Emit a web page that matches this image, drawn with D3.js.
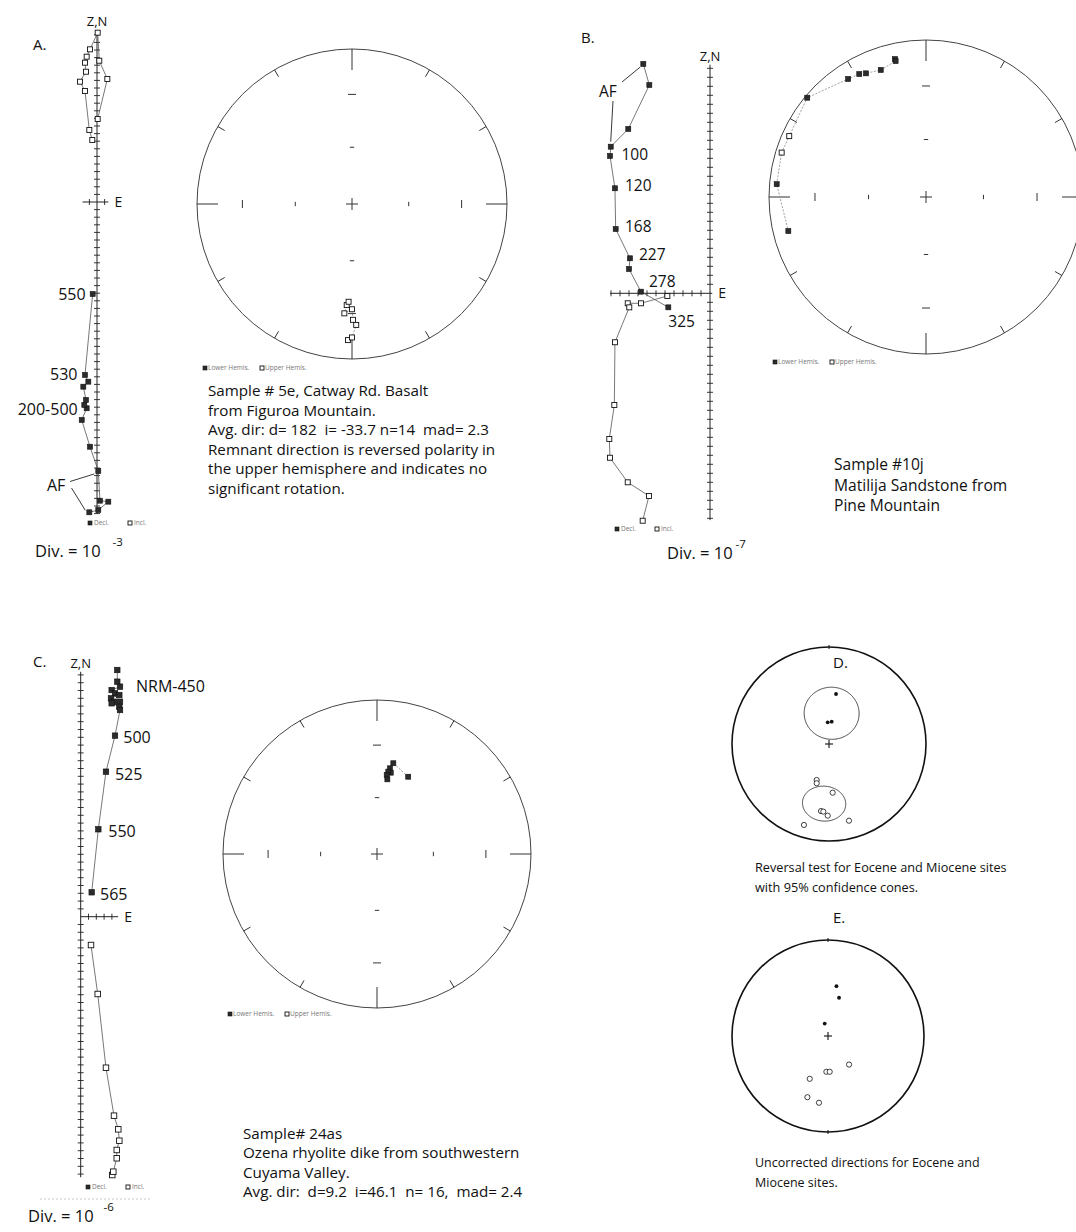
<!DOCTYPE html>
<html><head><meta charset="utf-8">
<script src="https://cdn.jsdelivr.net/npm/d3@7"></script>
<style>body{margin:0;background:#fff}svg{display:block}text{font-family:'Open Sans',sans-serif;fill:#111;white-space:pre}</style>
</head><body><script>
// ================= DATA =================
// Zijderveld diagrams, values in divisions; Decl. = filled (horizontal), Incl. = open (vertical)
const zijA_decl = [[-1.01,-40.83],[0.17,-40.53],[1.49,-39.43],[0.39,-39.3],[0.17,-35.39],[-0.92,-32.2],[-2.01,-28.68],[-1.36,-27.14],[-1.67,-26.71],[-1.45,-26.05],[-1.8,-24.3],[-1.14,-23.64],[-1.58,-22.76],[-0.57,-12.11]];
const zijA_incl = [[-0.62,8.16],[-1.01,9.47],[-1.58,14.61],[-2.24,15.83],[-1.45,17.14],[-1.58,18.33],[-1.36,19.12],[-0.92,20.09],[0.09,22.28],[0.3,18.59],[1.36,16.18],[0.09,10.92]];
const zijA_labels = [{i:13,t:"550"},{i:12,t:"530"},{i:6,t:"200-500"}];
const zijA_af = [4,0];

const zijB_decl = [[-7.41,25.48],[-6.74,23.14],[-9.08,18.26],[-11.03,16.29],[-11.11,15.26],[-10.56,11.67],[-10.48,7.14],[-8.89,3.89],[-9.0,2.7],[-7.67,0.18],[-4.63,-1.56]];
const zijB_incl = [[-4.74,-0.3],[-7.67,-1.11],[-9.14,-1.11],[-8.97,-1.56],[-10.56,-5.44],[-10.63,-12.41],[-11.19,-16.19],[-11.11,-18.27],[-9.14,-21.0],[-6.78,-22.52],[-7.48,-25.27]];
const zijB_labels = [{i:4,t:"100"},{i:5,t:"120"},{i:6,t:"168"},{i:7,t:"227"},{i:9,t:"278"},{i:10,t:"325"}];
const zijB_af = [0,3];

const zijC_decl = [[4.69,31.63],[4.69,30.13],[5.04,29.49],[3.97,29.06],[4.4,28.64],[4.95,28.42],[3.88,28.0],[4.27,27.56],[5.04,27.56],[3.97,27.36],[4.95,26.92],[5.04,26.5],[4.4,23.21],[3.24,18.59],[2.26,11.21],[1.41,3.13]];
const zijC_incl = [[4.05,-33.12],[4.18,-32.69],[4.62,-30.97],[4.62,-29.91],[4.95,-28.72],[4.82,-27.26],[4.27,-25.51],[3.24,-19.36],[2.18,-9.91],[1.32,-3.63]];
const zijC_labels = [{i:1,t:"NRM-450"},{i:12,t:"500"},{i:13,t:"525"},{i:14,t:"550"},{i:15,t:"565"}];

// Equal-area stereonets: [declination, inclination]; negative inclination = upper hemisphere (open)
const stereoA = [[181.7,-13.2],[180,-15],[178,-23],[179.5,-26.2],[180,-32.6],[184,-30],[183,-35],[182,-37]];
const stereoB = [[347.3,10.9],[347.4,12.3],[340.4,15.2],[334.1,13.5],[331.5,11.9],[326.6,10.9],[309.9,1.6],[294,-5.2],[287.1,-4.3],[274.9,5.1],[256.1,10.6]];
const stereoC = [[22,45],[10.2,39.9],[8.6,43.1],[9.6,45.5],[7.8,45.1],[7.0,47.1],[7.9,49.5]];

// D: reversal test (site means) with 95% cones [dec, inc, a95]
const siteD_normal = [[8,46.8],[356.6,71.8],[6.9,71.1]];
const siteD_reversed = [[198.9,-57.8],[197.4,-55.1],[175.7,-48.3],[186.8,-31],[184.8,-30.7],[181,-27],[197.2,-13.7],[165.4,-19.4]];
const coneD = [[4.9,63.5,22.5],[184.7,-37.7,16.3]];
// E: uncorrected directions
const siteE_normal = [[9.6,46.3],[16.1,55.9],[345.2,79.1]];
const siteE_reversed = [[143.6,-59.7],[182.6,-59.4],[177.3,-59.4],[203.1,-49.9],[198.6,-33.2],[187.7,-30.5]];

const textA = ["Sample # 5e, Catway Rd. Basalt","from Figuroa Mountain.","Avg. dir: d= 182  i= -33.7 n=14  mad= 2.3","Remnant direction is reversed polarity in","the upper hemisphere and indicates no","significant rotation."];
const textB = ["Sample #10j","Matilija Sandstone from","Pine Mountain"];
const textC = ["Sample# 24as","Ozena rhyolite dike from southwestern","Cuyama Valley.","Avg. dir:  d=9.2  i=46.1  n= 16,  mad= 2.4"];
const textD = ["Reversal test for Eocene and Miocene sites","with 95% confidence cones."];
const textE = ["Uncorrected directions for Eocene and","Miocene sites."];

// ================= DRAWING =================
const svg = d3.select("body").append("svg").attr("width",1076).attr("height",1232);

function sq(g,x,y,s,filled){
  g.append("rect").attr("x",x-s/2).attr("y",y-s/2).attr("width",s).attr("height",s)
   .attr("fill",filled?"#2b2b2b":"#fff").attr("stroke","#111").attr("stroke-width",filled?0.6:0.9);
}
function txt(x,y,t,size,anchor,fill){
  return svg.append("text").attr("x",x).attr("y",y).attr("font-size",size).attr("text-anchor",anchor||"start")
    .attr("xml:space","preserve").style("fill",fill||"#111").text(t);
}
function lines(x,y,arr,size,gap){ arr.forEach((t,k)=>txt(x,y+k*gap,t,size)); }

function zij(cfg){
  const g = svg.append("g");
  const x = d3.scaleLinear().domain([0,1]).range([cfg.ox,cfg.ox+cfg.unit]);
  const y = d3.scaleLinear().domain([0,1]).range([cfg.oy,cfg.oy-cfg.unit]);
  const [vb,vt]=cfg.v,[hl,hr]=cfg.h;
  g.append("line").attr("x1",x(0)).attr("x2",x(0)).attr("y1",y(vt)).attr("y2",y(vb)).attr("stroke","#222").attr("stroke-width",1);
  g.append("line").attr("x1",x(hl)).attr("x2",x(hr)).attr("y1",y(0)).attr("y2",y(0)).attr("stroke","#222").attr("stroke-width",1);
  d3.range(Math.ceil(vb),Math.floor(vt)+1).filter(v=>v!==0).forEach(v=>
    g.append("line").attr("x1",x(0)-3).attr("x2",x(0)+3).attr("y1",y(v)).attr("y2",y(v)).attr("stroke","#222").attr("stroke-width",0.9));
  d3.range(Math.ceil(hl),Math.floor(hr)+1).filter(v=>v!==0).forEach(v=>
    g.append("line").attr("y1",y(0)-3).attr("y2",y(0)+3).attr("x1",x(v)).attr("x2",x(v)).attr("stroke","#222").attr("stroke-width",0.9));
  const ln = d3.line().x(d=>x(d[0])).y(d=>y(d[1]));
  g.append("path").attr("d",ln(cfg.incl)).attr("fill","none").attr("stroke","#555").attr("stroke-width",0.8);
  g.append("path").attr("d",ln(cfg.decl)).attr("fill","none").attr("stroke","#555").attr("stroke-width",0.8);
  cfg.incl.forEach(d=>sq(g,x(d[0]),y(d[1]),cfg.s,false));
  cfg.decl.forEach(d=>sq(g,x(d[0]),y(d[1]),cfg.s,true));
  txt(x(0),y(vt)-4,"Z,N",13,"middle");
  txt(x(hr)+6,y(0)+5,"E",14);
  return {x,y};
}
function zijLegend(xp,yp){
  const g=svg.append("g");
  sq(g,xp,yp-2,4,true); txt(xp+4,yp,"Decl.",6.5,"start","#777");
  sq(g,xp+40,yp-2,4,false); txt(xp+44,yp,"Incl.",6.5,"start","#777");
}
function divLabel(xp,yp,exp,gap){
  const t = txt(xp,yp,"Div. = 10",16.5);
  t.append("tspan").attr("dx",gap).attr("dy",-11).attr("font-size",11.5).text(exp);
}

// ---- Panel A Zijderveld
const zA = zij({ox:97,oy:202,unit:7.6,v:[-41,22.6],h:[-1.9,1.5],decl:zijA_decl,incl:zijA_incl,s:5});
const offA = [[-7,6],[-7.5,5],[-4,-5]];
zijA_labels.forEach((l,k)=>{const d=zijA_decl[l.i];txt(zA.x(d[0])+offA[k][0],zA.y(d[1])+offA[k][1],l.t,16,"end");});
txt(47,491,"AF",16);
[[70,481.5,-4,3],[71.5,488,-4,-2]].forEach((o,k)=>{const d=zijA_decl[zijA_af[k]];
  svg.append("line").attr("x1",o[0]).attr("y1",o[1]).attr("x2",zA.x(d[0])+o[2]).attr("y2",zA.y(d[1])+o[3]).attr("stroke","#222").attr("stroke-width",0.9);});
zijLegend(90,525);
divLabel(35,557,"-3",12);
txt(33,50,"A.",15);

// ---- Panel B Zijderveld
const zB = zij({ox:710,oy:293.3,unit:9,v:[-25.2,25.4],h:[-11.1,0.25],decl:zijB_decl,incl:zijB_incl,s:5});
const offB = [[11.5,4.5],[10,2.5],[9.3,3],[9,2],[8,-5],[0,20]];
zijB_labels.forEach((l,k)=>{const d=zijB_decl[l.i];txt(zB.x(d[0])+offB[k][0],zB.y(d[1])+offB[k][1],l.t,15.5);});
txt(599,97,"AF",15.5);
[[622,82,-3,3],[613,101,0,-5]].forEach((o,k)=>{const d=zijB_decl[zijB_af[k]];
  svg.append("line").attr("x1",o[0]).attr("y1",o[1]).attr("x2",zB.x(d[0])+o[2]).attr("y2",zB.y(d[1])+o[3]).attr("stroke","#222").attr("stroke-width",0.9);});
zijLegend(617,531);
divLabel(667,559,"-7",3);
txt(581,43,"B.",15);

// ---- Panel C Zijderveld
const zC = zij({ox:80.7,oy:916.7,unit:7.8,v:[-33.4,31.4],h:[0,4.8],decl:zijC_decl,incl:zijC_incl,s:5.5});
const offC = [[18.7,10],[8.3,7],[9,8],[10,7.4],[8.3,7.7]];
zijC_labels.forEach((l,k)=>{const d=zijC_decl[l.i];txt(zC.x(d[0])+offC[k][0],zC.y(d[1])+offC[k][1],l.t,16);});
zijLegend(88,1189);
svg.append("line").attr("x1",40).attr("x2",150).attr("y1",1199).attr("y2",1199).attr("stroke","#bbb").attr("stroke-width",0.8).attr("stroke-dasharray","2,2");
divLabel(28,1222,"-6",10);
txt(33,667,"C.",15);

// ---- Stereonets A/B/C
function stereo(cx,cy,R,data,legendX,legendY){
  const g=svg.append("g");
  const proj=d3.geoAzimuthalEqualArea().rotate([0,-90]).scale(R/Math.SQRT2).translate([cx,cy]);
  const P=d=>proj([180-d[0],Math.abs(d[1])]);
  g.append("circle").attr("cx",cx).attr("cy",cy).attr("r",R).attr("fill","none").attr("stroke","#444").attr("stroke-width",1);
  d3.range(0,360,30).forEach(az=>{
    const a=az*Math.PI/180, L=(az%90===0)?21:8;
    g.append("line").attr("x1",cx+R*Math.sin(a)).attr("y1",cy-R*Math.cos(a))
     .attr("x2",cx+(R-L)*Math.sin(a)).attr("y2",cy-(R-L)*Math.cos(a)).attr("stroke","#333").attr("stroke-width",1);
  });
  [0,90,180,270].forEach(az=>{
    [[30,4],[60,2.2]].forEach(([inc,h])=>{
      const p=P([az,inc]); const a=az*Math.PI/180;
      const ux=Math.cos(a), uy=Math.sin(a);
      g.append("line").attr("x1",p[0]-h*ux).attr("y1",p[1]-h*uy).attr("x2",p[0]+h*ux).attr("y2",p[1]+h*uy).attr("stroke","#333").attr("stroke-width",1);
    });
  });
  g.append("line").attr("x1",cx-6).attr("x2",cx+6).attr("y1",cy).attr("y2",cy).attr("stroke","#333");
  g.append("line").attr("x1",cx).attr("x2",cx).attr("y1",cy-6).attr("y2",cy+6).attr("stroke","#333");
  g.append("path").attr("d",d3.line()(data.map(P))).attr("fill","none").attr("stroke","#888").attr("stroke-width",0.8).attr("stroke-dasharray","2,1.5");
  data.forEach(d=>{const p=P(d);sq(g,p[0],p[1],5,d[1]>=0);});
  const lg=svg.append("g");
  sq(lg,legendX+2,legendY-2,4,true); txt(legendX+5,legendY,"Lower Hemis.",6.5,"start","#777");
  sq(lg,legendX+59,legendY-2,4,false); txt(legendX+62,legendY,"Upper Hemis.",6.5,"start","#777");
}
stereo(352,204,155,stereoA,203,370);
stereo(926,197,157,stereoB,773,364);
stereo(377,854,154,stereoC,228,1016);

lines(208,396,textA,15.2,19.6);
lines(834,470,textB,15.6,20.5);
lines(243,1139,textC,15.2,19.3);

// ---- D and E
function simple(cx,cy,R,normal,reversed,cones,bottomTick){
  const g=svg.append("g");
  const proj=d3.geoAzimuthalEqualArea().rotate([0,-90]).scale(R/Math.SQRT2).translate([cx,cy]);
  const P=d=>proj([180-d[0],Math.abs(d[1])]);
  const path=d3.geoPath(proj);
  g.append("circle").attr("cx",cx).attr("cy",cy).attr("r",R).attr("fill","none").attr("stroke","#111").attr("stroke-width",1.6);
  g.append("line").attr("x1",cx).attr("x2",cx).attr("y1",cy-R-2).attr("y2",cy-R+2).attr("stroke","#111");
  if(bottomTick) g.append("line").attr("x1",cx).attr("x2",cx).attr("y1",cy+R-2).attr("y2",cy+R+2).attr("stroke","#111");
  g.append("line").attr("x1",cx-4).attr("x2",cx+4).attr("y1",cy).attr("y2",cy).attr("stroke","#111").attr("stroke-width",1.1);
  g.append("line").attr("x1",cx).attr("x2",cx).attr("y1",cy-4).attr("y2",cy+4).attr("stroke","#111").attr("stroke-width",1.1);
  (cones||[]).forEach(c=>{
    const circ=d3.geoCircle().center([180-c[0],Math.abs(c[1])]).radius(c[2]).precision(2)();
    g.append("path").attr("d",path(circ)).attr("fill","none").attr("stroke","#333").attr("stroke-width",0.9);
  });
  normal.forEach(d=>{const p=P(d);g.append("circle").attr("cx",p[0]).attr("cy",p[1]).attr("r",1.9).attr("fill","#111");});
  reversed.forEach(d=>{const p=P(d);g.append("circle").attr("cx",p[0]).attr("cy",p[1]).attr("r",2.6).attr("fill","#fff").attr("stroke","#111").attr("stroke-width",0.8);});
}
simple(829,744,97,siteD_normal,siteD_reversed,coneD,false);
simple(828,1036,96,siteE_normal,siteE_reversed,null,true);
txt(833,668,"D.",15);
txt(833,923,"E.",15);
lines(755,872,textD,12.7,20);
lines(755,1167,textE,12.5,20);
</script></body></html>
